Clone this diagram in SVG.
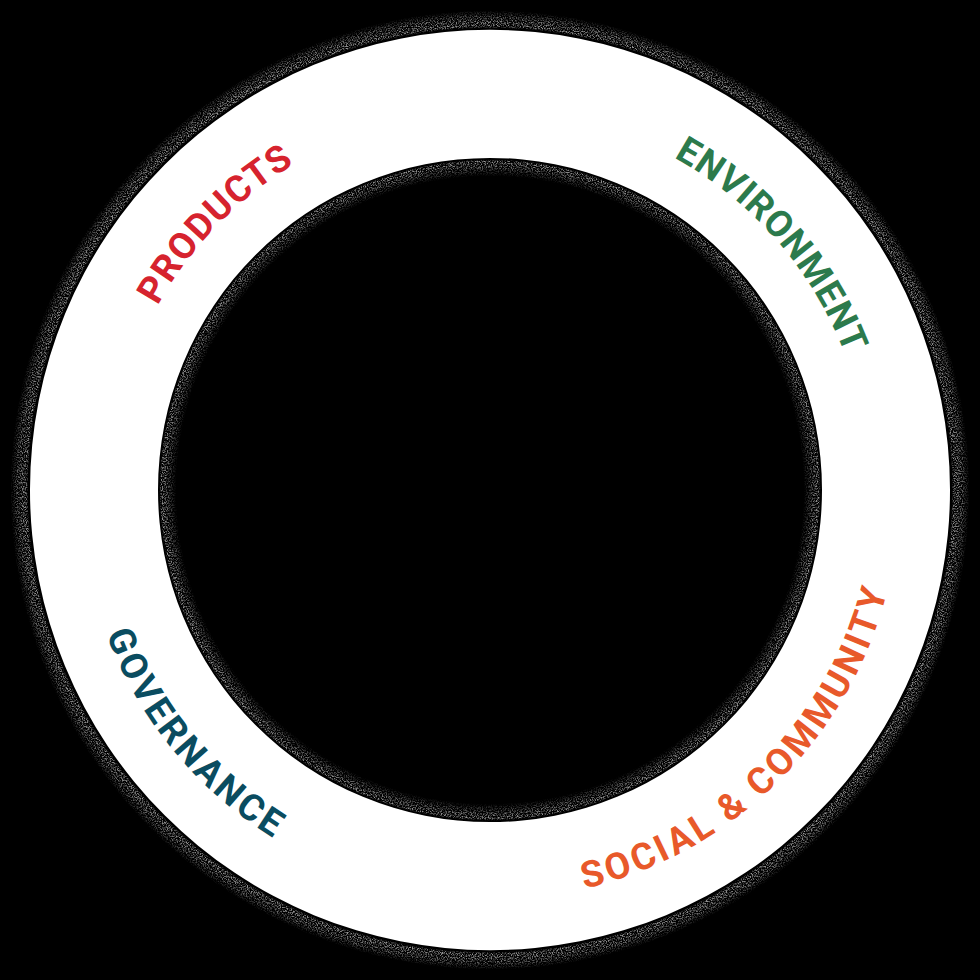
<svg xmlns="http://www.w3.org/2000/svg" xmlns:xlink="http://www.w3.org/1999/xlink" width="980" height="980" viewBox="0 0 980 980">
  <style>
    .lbl { font-family: Roboto, "DejaVu Sans", "Liberation Sans", sans-serif; font-weight: 700; font-size: 37px; }
    .products { fill: #d6232e; }
    .environment { fill: #2c7a4c; }
    .social { fill: #e8592a; }
    .governance { fill: #0a4c60; }
  </style>
  <defs>
    <filter id="grain" x="0" y="0" width="980" height="980" filterUnits="userSpaceOnUse">
      <feTurbulence type="fractalNoise" baseFrequency="0.8" numOctaves="2" seed="7" result="n"/>
      <feColorMatrix in="n" type="matrix" values="0 0 0 0 1  0 0 0 0 1  0 0 0 0 1  3.6 0 0 0 -1.55" result="m"/>
      <feComposite in="m" in2="SourceGraphic" operator="in"/>
    </filter>
    <radialGradient id="outerHalo" gradientUnits="userSpaceOnUse" cx="490" cy="490" r="482">
      <stop offset="0.953" stop-color="#fff" stop-opacity="0"/>
      <stop offset="0.958" stop-color="#fff" stop-opacity="0"/>
      <stop offset="0.963" stop-color="#fff" stop-opacity="0.6"/>
      <stop offset="0.98" stop-color="#fff" stop-opacity="0.4"/>
      <stop offset="0.995" stop-color="#fff" stop-opacity="0"/>
    </radialGradient>
    <radialGradient id="innerHalo" gradientUnits="userSpaceOnUse" cx="490" cy="490" r="332">
      <stop offset="0.945" stop-color="#fff" stop-opacity="0"/>
      <stop offset="0.972" stop-color="#fff" stop-opacity="0.4"/>
      <stop offset="0.99" stop-color="#fff" stop-opacity="0.6"/>
      <stop offset="0.996" stop-color="#fff" stop-opacity="0"/>
      <stop offset="1" stop-color="#fff" stop-opacity="0"/>
    </radialGradient>
    <path id="pProducts" d="M110.9,463.5 A380,380 0 0 1 450.3,112.1"/>
    <path id="pEnvironment" d="M549.4,114.7 A380,380 0 0 1 869.9,483.4"/>
    <path id="pSocial" d="M450.7,898.1 A410,410 0 0 0 898.7,457.8"/>
    <path id="pGovernance" d="M80.0,485.0 A410,410 0 0 0 413.9,892.9"/>
  </defs>

  <rect width="980" height="980" fill="#000"/>

  <g id="ring">
    <circle cx="490" cy="490" r="482" fill="url(#outerHalo)" filter="url(#grain)"/>
    <path d="M30,490 A460,460 0 1 0 950,490 A460,460 0 1 0 30,490 Z M158,490 A332,332 0 1 1 822,490 A332,332 0 1 1 158,490 Z" fill="#fff" fill-rule="evenodd"/>
    <circle cx="490" cy="490" r="332" fill="url(#innerHalo)" filter="url(#grain)"/>
  </g>

  <g id="products">
    <text class="lbl products"><textPath xlink:href="#pProducts" href="#pProducts" startOffset="50%" text-anchor="middle" textLength="199" lengthAdjust="spacing">PRODUCTS</textPath></text>
  </g>
  <g id="environment">
    <text class="lbl environment"><textPath xlink:href="#pEnvironment" href="#pEnvironment" startOffset="50%" text-anchor="middle" textLength="266" lengthAdjust="spacing">ENVIRONMENT</textPath></text>
  </g>
  <g id="social-community">
    <text class="lbl social"><textPath xlink:href="#pSocial" href="#pSocial" startOffset="50%" text-anchor="middle" textLength="446" lengthAdjust="spacing">SOCIAL &amp; COMMUNITY</textPath></text>
  </g>
  <g id="governance">
    <text class="lbl governance"><textPath xlink:href="#pGovernance" href="#pGovernance" startOffset="50%" text-anchor="middle" textLength="268" lengthAdjust="spacing">GOVERNANCE</textPath></text>
  </g>
</svg>
